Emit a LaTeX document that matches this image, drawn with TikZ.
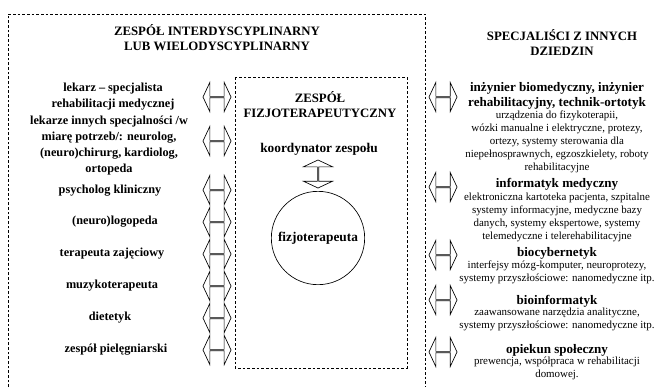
\documentclass[tikz,border=0pt]{standalone}
\usepackage{fontspec}
\setmainfont{Liberation Serif}
\usetikzlibrary{shapes.arrows}

\tikzset{
  frame/.style={draw, line width=0.5pt, dash pattern=on 2pt off 1.5pt},
  title/.style={font=\bfseries\fontsize{9.6}{11.3}\selectfont, align=center},
  member/.style={font=\bfseries\fontsize{9.2}{12}\selectfont, align=center},
  role/.style={font=\bfseries\fontsize{10}{12}\selectfont, align=center},
  expert/.style={font=\bfseries\fontsize{9.8}{11}\selectfont, align=center},
  detail/.style={font=\fontsize{8.2}{9.7}\selectfont, align=center},
  link/.style={double arrow, draw, line width=0.5pt, minimum height=21pt,
    minimum width=22pt, double arrow head extend=5.2pt,
    double arrow tip angle=130, inner sep=0pt},
}

\begin{document}
\begin{tikzpicture}[x=0.75pt,y=-0.75pt]
  \useasboundingbox (0,0) rectangle (655,387);
  % frames
  \draw[frame] (8,387) -- (8,14) -- (425,14) -- (425,387);
  \draw[frame] (235,77) rectangle (407,368);

  % left team
  \node (multi) [title] at (217,37.5) {ZESPÓŁ INTERDYSCYPLINARNY\\LUB WIELODYSCYPLINARNY};
  \node (lekarz) [member] at (113,97) {lekarz – specjalista\\rehabilitacji medycznej};
  \node (inni) [member] at (109,146) {lekarze innych specjalności /w\\miarę potrzeb/: neurolog,\\(neuro)chirurg, kardiolog,\\ortopeda};
  \node (psycholog) [member] at (110,191) {psycholog kliniczny};
  \node (logopeda) [member] at (115,222) {(neuro)logopeda};
  \node (terapeuta) [member] at (112,254) {terapeuta zajęciowy};
  \node (muzyko) [member] at (112,286) {muzykoterapeuta};
  \node (dietetyk) [member] at (110,318) {dietetyk};
  \node (pielegn) [member] at (116,350) {zespół pielęgniarski};

  \node (l1) [link] at (217,97) {};
  \node (l2) [link] at (217,141) {};
  \node (l3) [link] at (217,190) {};
  \node (l4) [link] at (217,222) {};
  \node (l5) [link] at (217,254) {};
  \node (l6) [link] at (217,286) {};
  \node (l7) [link] at (217,318) {};
  \node (l8) [link] at (217,350) {};

  % physiotherapy team
  \node (fizjo) [title] at (320,105) {ZESPÓŁ\\FIZJOTERAPEUTYCZNY};
  \node (koord) [role] at (319,149) {koordynator zespołu};
  \node (up) [link,shape border rotate=90] at (318,174) {};
  \node (fizjoterapeuta) [role,circle,draw,line width=0.5pt,minimum size=70pt] at (318,238) {fizjoterapeuta};

  % other specialists
  \node (inne) [title] at (562,42.5) {SPECJALIŚCI Z INNYCH\\DZIEDZIN};
  \node (inz) [expert] at (557,96) {inżynier biomedyczny, inżynier\\rehabilitacyjny, technik-ortotyk};
  \node (inzd) [detail] at (557,142) {urządzenia do fizykoterapii,\\wózki manualne i elektryczne, protezy,\\ortezy, systemy sterowania dla\\niepełnosprawnych, egzoszkielety, roboty\\rehabilitacyjne};
  \node (inf) [expert] at (557,184) {informatyk medyczny};
  \node (infd) [detail] at (557,217) {elektroniczna kartoteka pacjenta, szpitalne\\systemy informacyjne, medyczne bazy\\danych, systemy ekspertowe, systemy\\telemedyczne i telerehabilitacyjne};
  \node (cyb) [expert] at (557,253) {biocybernetyk};
  \node (cybd) [detail] at (557,272) {interfejsy mózg-komputer, neuroprotezy,\\systemy przyszłościowe: nanomedyczne itp.};
  \node (bio) [expert] at (557,301) {bioinformatyk};
  \node (biod) [detail] at (557,319) {zaawansowane narzędzia analityczne,\\systemy przyszłościowe: nanomedyczne itp.};
  \node (opiek) [expert] at (557,350) {opiekun społeczny};
  \node (opiekd) [detail] at (557,368.5) {prewencja, współpraca w rehabilitacji\\domowej.};

  \node (r1) [link] at (443,97) {};
  \node (r2) [link] at (443,187) {};
  \node (r3) [link] at (443,255) {};
  \node (r4) [link] at (443,300) {};
  \node (r5) [link] at (443,352) {};
\end{tikzpicture}
\end{document}
